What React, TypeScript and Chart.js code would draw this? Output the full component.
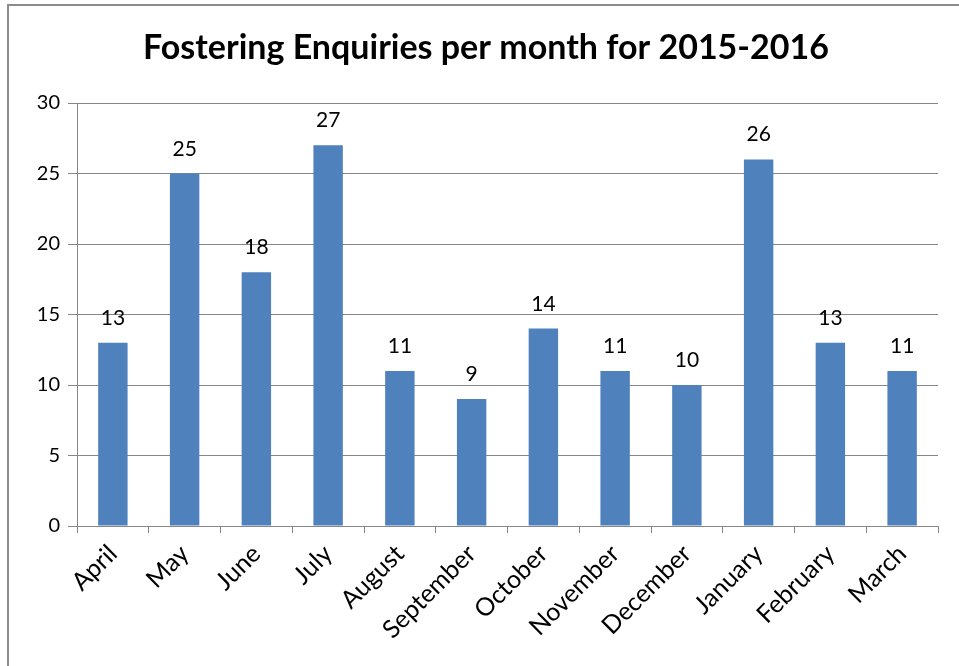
import React, { useEffect, useRef } from "react";
import { Chart, registerables } from "chart.js";

Chart.register(...registerables);

const TITLE = "Fostering Enquiries per month for 2015-2016";
const MONTHS = [
  "April", "May", "June", "July", "August", "September",
  "October", "November", "December", "January", "February", "March",
];
const ENQUIRIES = [13, 25, 18, 27, 11, 9, 14, 11, 10, 26, 13, 11];
const Y_MIN = 0;
const Y_MAX = 30;
const Y_STEP = 5;

const FONT = "Lato, 'Open Sans', sans-serif";
const GRID = "#878787";
const BAR = "#4F81BD";

const frameAndLabels = {
  id: "frameAndLabels",
  beforeDraw(chart: any) {
    const ctx = chart.ctx;
    ctx.save();
    ctx.fillStyle = "#ffffff";
    ctx.fillRect(0, 0, chart.width, chart.height);
    ctx.strokeStyle = "#8c8c8c";
    ctx.lineWidth = 2;
    ctx.strokeRect(8, 5, chart.width + 20, chart.height + 20);
    ctx.restore();
  },
  afterDatasetsDraw(chart: any) {
    const ctx = chart.ctx;
    const meta = chart.getDatasetMeta(0);
    const data = chart.data.datasets[0].data;
    ctx.save();
    ctx.font = `21px ${FONT}`;
    ctx.fillStyle = "#000";
    ctx.textAlign = "center";
    ctx.textBaseline = "alphabetic";
    meta.data.forEach((bar: any, i: number) => {
      ctx.fillText(String(data[i]), bar.x, bar.y - 18);
    });
    ctx.restore();
  },
  afterDraw(chart: any) {
    const ctx = chart.ctx;
    ctx.save();
    ctx.font = `bold 34px ${FONT}`;
    ctx.fillStyle = "#000";
    ctx.textAlign = "center";
    ctx.textBaseline = "middle";
    ctx.fillText(TITLE, 486, 48);
    ctx.restore();
  },
};

export default function App() {
  const ref = useRef<HTMLCanvasElement | null>(null);
  useEffect(() => {
    if (!ref.current) return;
    const chart = new Chart(ref.current, {
      type: "bar",
      data: {
        labels: MONTHS,
        datasets: [
          {
            data: ENQUIRIES,
            backgroundColor: BAR,
            borderWidth: 0,
            categoryPercentage: 1,
            barPercentage: 0.41,
          },
        ],
      },
      options: {
        animation: false,
        responsive: false,
        devicePixelRatio: 1,
        layout: { padding: { left: 7, right: 21, top: 103, bottom: 0 } },
        plugins: {
          legend: { display: false },
          tooltip: { enabled: false },
          title: { display: false },
        },
        scales: {
          x: {
            offset: true,
            grid: {
              drawOnChartArea: false,
              drawTicks: true,
              tickLength: 7,
              color: GRID,
              offset: true,
            },
            border: { color: GRID, width: 1 },
            ticks: {
              color: "#000",
              font: { family: FONT, size: 25 },
              minRotation: 45,
              maxRotation: 45,
              autoSkip: false,
              padding: 6,
            },
            afterFit(scale: any) {
              scale.height = 140;
            },
          },
          y: {
            min: Y_MIN,
            max: Y_MAX,
            grid: { color: GRID, tickLength: 9, lineWidth: 1 },
            border: { color: GRID, width: 1 },
            ticks: {
              stepSize: Y_STEP,
              color: "#000",
              font: { family: FONT, size: 20 },
              padding: 8,
            },
            afterFit(scale: any) {
              scale.width = 70;
            },
          },
        },
      },
      plugins: [frameAndLabels],
    });
    return () => chart.destroy();
  }, []);
  return (
    <div style={{ position: "absolute", left: 0, top: 0, width: 959, height: 666 }}>
      <canvas ref={ref} width={959} height={666} style={{ width: 959, height: 666 }} />
    </div>
  );
}
